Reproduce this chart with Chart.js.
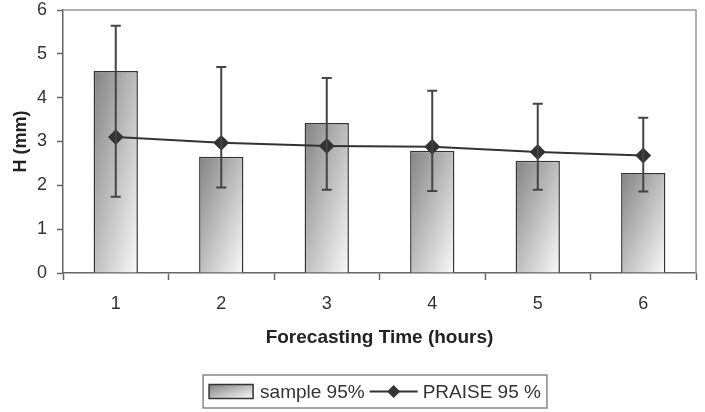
<!DOCTYPE html>
<html>
<head>
<meta charset="utf-8">
<script src="https://cdn.jsdelivr.net/npm/chart.js@4/dist/chart.umd.min.js"></script>
<style>
  html, body { margin: 0; padding: 0; background: #fff; }
  #wrap { width: 705px; height: 412px; position: relative; }
</style>
</head>
<body>
<div id="wrap"><canvas id="chart"></canvas></div>
<script>
const hours = ["1", "2", "3", "4", "5", "6"];
const sample95 = [4.61, 2.65, 3.42, 2.79, 2.56, 2.28];
const praise95 = [3.10, 2.97, 2.90, 2.88, 2.76, 2.68];
const errLow = [1.74, 1.95, 1.90, 1.87, 1.90, 1.86];
const errHigh = [5.64, 4.70, 4.45, 4.16, 3.86, 3.54];
const yTicks = [0, 1, 2, 3, 4, 5, 6];

const FONT = "'Liberation Sans', Arial, sans-serif";
const CAT_PCT = 0.5, BAR_PCT = 0.84;

// diagonal gradient in the box's own proportions: corner (left,top) dark, (right,bottom) light
function boxGradient(ctx, left, top, w, h) {
  const s = (2 * w * h) / (w * w + h * h);
  const g = ctx.createLinearGradient(left, top, left + s * h, top + s * w);
  g.addColorStop(0, "#838383");
  g.addColorStop(1, "#fafafa");
  return g;
}

function barFill(c) {
  const chart = c.chart;
  const xs = chart.scales.x, ys = chart.scales.y;
  if (!chart.chartArea || !xs || !ys || c.dataIndex === undefined) return "#bbb";
  const x = xs.getPixelForValue(c.dataIndex);
  const bw = (xs.width / hours.length) * CAT_PCT * BAR_PCT;
  const top = ys.getPixelForValue(sample95[c.dataIndex]);
  const base = ys.getPixelForValue(0);
  if (!isFinite(x) || !isFinite(top) || base - top < 1) return "#bbb";
  return boxGradient(chart.ctx, x - bw / 2, top, bw, base - top);
}

const errorBars = {
  id: "errorBars",
  afterDatasetsDraw(chart) {
    const { ctx, scales } = chart;
    ctx.save();
    ctx.strokeStyle = "#444";
    ctx.lineWidth = 2;
    hours.forEach((h, i) => {
      const x = scales.x.getPixelForValue(i);
      const yl = scales.y.getPixelForValue(errLow[i]);
      const yh = scales.y.getPixelForValue(errHigh[i]);
      ctx.beginPath();
      ctx.moveTo(x, yl); ctx.lineTo(x, yh);
      ctx.moveTo(x - 5, yl); ctx.lineTo(x + 5, yl);
      ctx.moveTo(x - 5, yh); ctx.lineTo(x + 5, yh);
      ctx.stroke();
    });
    ctx.restore();
  }
};

const frameAndLegend = {
  id: "frameAndLegend",
  afterDraw(chart) {
    const { ctx, chartArea: a } = chart;
    ctx.save();
    // top and right frame
    ctx.strokeStyle = "#9a9a9a";
    ctx.lineWidth = 1.5;
    ctx.beginPath();
    ctx.moveTo(a.left, a.top); ctx.lineTo(a.right, a.top); ctx.lineTo(a.right, a.bottom);
    ctx.stroke();

    // legend
    ctx.font = "19px " + FONT;
    const t1 = "sample 95%", t2 = "PRAISE 95 %";
    const w1 = ctx.measureText(t1).width, w2 = ctx.measureText(t2).width;
    const total = 6 + 44 + 7 + w1 + 5 + 48 + 5 + w2 + 6;
    const cx = 375;
    const lx = cx - total / 2, ly = 375, lh = 33;
    ctx.strokeStyle = "#888";
    ctx.lineWidth = 1.5;
    ctx.strokeRect(lx, ly, total, lh);
    const my = ly + lh / 2;
    let x = lx + 6;
    ctx.fillStyle = boxGradient(ctx, x, my - 7, 44, 14);
    ctx.fillRect(x, my - 7, 44, 14);
    ctx.strokeStyle = "#333";
    ctx.lineWidth = 1.5;
    ctx.strokeRect(x, my - 7, 44, 14);
    x += 44 + 7;
    ctx.fillStyle = "#333";
    ctx.textBaseline = "middle";
    ctx.fillText(t1, x, my + 1);
    x += w1 + 5;
    ctx.strokeStyle = "#333";
    ctx.lineWidth = 2;
    ctx.beginPath(); ctx.moveTo(x, my); ctx.lineTo(x + 48, my); ctx.stroke();
    const dx = x + 24;
    ctx.beginPath();
    ctx.moveTo(dx - 6.5, my); ctx.lineTo(dx, my - 6.5); ctx.lineTo(dx + 6.5, my); ctx.lineTo(dx, my + 6.5);
    ctx.closePath(); ctx.fill();
    x += 48 + 5;
    ctx.fillText(t2, x, my + 1);
    ctx.restore();
  }
};

new Chart(document.getElementById("chart"), {
  data: {
    labels: hours,
    datasets: [
      {
        type: "line",
        label: "PRAISE 95 %",
        data: praise95,
        borderColor: "#333",
        backgroundColor: "#333",
        borderWidth: 2,
        pointStyle: "rectRot",
        pointRadius: 6.5,
        tension: 0,
        order: 0
      },
      {
        type: "bar",
        label: "sample 95%",
        data: sample95,
        backgroundColor: barFill,
        borderColor: "#333",
        borderWidth: 1.5,
        barPercentage: BAR_PCT,
        categoryPercentage: CAT_PCT,
        order: 1
      }
    ]
  },
  options: {
    responsive: true,
    maintainAspectRatio: false,
    animation: false,
    layout: { padding: { top: 10, right: 9, left: 6, bottom: 59 } },
    plugins: {
      legend: { display: false },
      tooltip: { enabled: false }
    },
    scales: {
      x: {
        offset: true,
        grid: { display: true, drawOnChartArea: false, offset: true, tickLength: 7, color: "#666", tickWidth: 1.5 },
        border: { color: "#666", width: 1.5 },
        ticks: { color: "#333", font: { family: FONT, size: 18 }, padding: 13 },
        title: { display: true, text: "Forecasting Time (hours)", color: "#222", font: { family: FONT, size: 19, weight: "bold" }, padding: { top: 10 } },
        afterFit(s) { s.height = 80; }
      },
      y: {
        min: 0, max: 6,
        afterBuildTicks(s) { s.ticks = yTicks.map(v => ({ value: v })); },
        grid: { display: true, drawOnChartArea: false, tickLength: 6, color: "#666", tickWidth: 1.5 },
        border: { color: "#666", width: 1.5 },
        ticks: { color: "#333", font: { family: FONT, size: 18 }, padding: 10 },
        title: { display: true, text: "H (mm)", color: "#222", font: { family: FONT, size: 18, weight: "bold" }, padding: { bottom: 6 } },
        afterFit(s) { s.width = 57; s.paddingTop = 0; s.paddingBottom = 0; }
      }
    }
  },
  plugins: [errorBars, frameAndLegend]
});
</script>
</body>
</html>
